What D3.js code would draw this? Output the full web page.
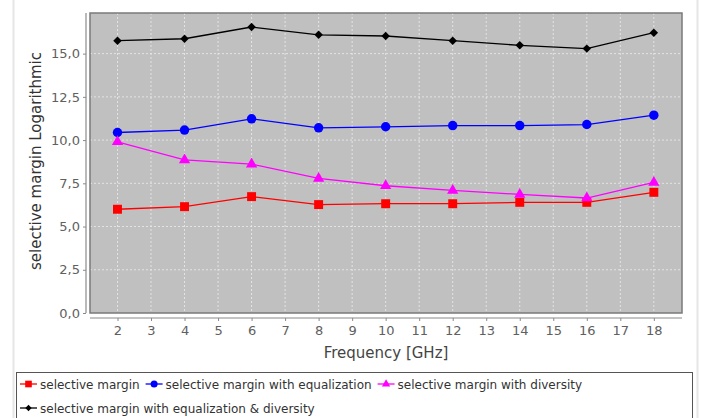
<!DOCTYPE html>
<html>
<head>
<script src="https://d3js.org/d3.v7.min.js"></script>
<style>
    body { margin: 0; background: white; }
    text { font-family: "DejaVu Sans", sans-serif; }
</style>
</head>
<body>
<svg id="chart" width="705" height="418"></svg>
<script>
    // data
    var freqs = [2, 4, 6, 8, 10, 12, 14, 16, 18];
    var marginPlain = [6.00, 6.15, 6.73, 6.27, 6.32, 6.32, 6.40, 6.40, 6.98];
    var marginEqual = [10.44, 10.58, 11.23, 10.71, 10.77, 10.84, 10.84, 10.90, 11.44];
    var marginDiv = [9.90, 8.85, 8.61, 7.78, 7.36, 7.09, 6.86, 6.65, 7.55];
    var marginBoth = [15.75, 15.86, 16.54, 16.09, 16.02, 15.75, 15.48, 15.29, 16.21];
    var seriesNames = ["selective margin", "selective margin with equalization",
        "selective margin with diversity", "selective margin with equalization & diversity"];
    var xTicks = d3.range(2, 19);
    var yTicks = [0, 2.5, 5, 7.5, 10, 12.5, 15];

    var series = [
        { name: seriesNames[0], values: marginPlain, color: "#ff0000", shape: d3.symbolSquare, size: 80, rot: 0 },
        { name: seriesNames[1], values: marginEqual, color: "#0000ff", shape: d3.symbolCircle, size: 70, rot: 0 },
        { name: seriesNames[2], values: marginDiv, color: "#ff00ff", shape: d3.symbolTriangle, size: 55, rot: 0 },
        { name: seriesNames[3], values: marginBoth, color: "#000000", shape: d3.symbolSquare, size: 36, rot: 45 }
    ];

    var svg = d3.select("#chart");
    var plot = { left: 90, top: 13, right: 682, bottom: 313 };

    var x = d3.scaleLinear().domain([1.18, 18.84]).range([plot.left, plot.right]);
    var y = d3.scaleLinear().domain([0, 17.35]).range([plot.bottom, plot.top]);

    // panel side lines
    svg.append("line").attr("x1", 13.5).attr("x2", 13.5).attr("y1", 0).attr("y2", 418)
        .attr("stroke", "#e6e6e6").attr("stroke-width", 2);
    svg.append("line").attr("x1", 697.5).attr("x2", 697.5).attr("y1", 0).attr("y2", 418)
        .attr("stroke", "#e6e6e6").attr("stroke-width", 2);

    // plot background
    svg.append("rect")
        .attr("x", plot.left).attr("y", plot.top)
        .attr("width", plot.right - plot.left).attr("height", plot.bottom - plot.top)
        .attr("fill", "#c0c0c0");

    // grid
    svg.append("g").selectAll("line").data(xTicks).enter().append("line")
        .attr("x1", function (d) { return x(d); }).attr("x2", function (d) { return x(d); })
        .attr("y1", plot.top).attr("y2", plot.bottom)
        .attr("stroke", "#ececec").attr("stroke-width", 0.8).attr("stroke-dasharray", "2,2");
    svg.append("g").selectAll("line").data(yTicks.slice(1)).enter().append("line")
        .attr("x1", plot.left).attr("x2", plot.right)
        .attr("y1", function (d) { return y(d); }).attr("y2", function (d) { return y(d); })
        .attr("stroke", "#ececec").attr("stroke-width", 0.8).attr("stroke-dasharray", "2,2");

    svg.append("rect")
        .attr("x", plot.left).attr("y", plot.top)
        .attr("width", plot.right - plot.left).attr("height", plot.bottom - plot.top)
        .attr("fill", "none").attr("stroke", "#7a7a7a").attr("stroke-width", 1.5);

    // axes
    var fmt = function (d) { return d3.format(".1f")(d).replace(".", ","); };
    var yAxis = svg.append("g")
        .attr("transform", "translate(86,0)")
        .call(d3.axisLeft(y).tickValues(yTicks).tickFormat(fmt).tickSize(3).tickPadding(3));
    var xAxis = svg.append("g")
        .attr("transform", "translate(0,318)")
        .call(d3.axisBottom(x).tickValues(xTicks).tickFormat(d3.format("d")).tickSize(3).tickPadding(5));
    [yAxis, xAxis].forEach(function (a) {
        a.select(".domain").attr("stroke", "#8a8a8a").attr("stroke-width", 1.2);
        a.selectAll(".tick line").attr("stroke", "#8a8a8a");
        a.selectAll(".tick text").attr("fill", "#606060").style("font-size", "13px")
            .style("font-family", "DejaVu Sans, sans-serif");
    });
    yAxis.select(".domain").attr("d", "M0," + plot.top + "V" + plot.bottom);
    xAxis.select(".domain").attr("d", "M" + plot.left + ",0H" + plot.right);

    // axis titles
    svg.append("text")
        .attr("transform", "translate(41,161) rotate(-90)")
        .attr("text-anchor", "middle")
        .attr("fill", "#333")
        .style("font-size", "15px")
        .text("selective margin Logarithmic");
    svg.append("text")
        .attr("x", (plot.left + plot.right) / 2).attr("y", 358)
        .attr("text-anchor", "middle")
        .attr("fill", "#444")
        .style("font-size", "15px")
        .text("Frequency [GHz]");

    // lines and markers
    var line = d3.line()
        .x(function (d, i) { return x(freqs[i]); })
        .y(function (d) { return y(d); });

    series.forEach(function (s) {
        svg.append("path")
            .attr("d", line(s.values))
            .attr("fill", "none")
            .attr("stroke", s.color)
            .attr("stroke-width", 1.3);
        svg.append("g").selectAll("path").data(s.values).enter().append("path")
            .attr("transform", function (d, i) {
                return "translate(" + x(freqs[i]) + "," + y(d) + ") rotate(" + s.rot + ")";
            })
            .attr("d", d3.symbol().type(s.shape).size(s.size))
            .attr("fill", s.color);
    });

    // legend
    var legend = svg.append("g");
    legend.append("rect")
        .attr("x", 16.5).attr("y", 372.5).attr("width", 676).attr("height", 60)
        .attr("fill", "white").attr("stroke", "#555").attr("stroke-width", 1);

    var rows = [[0, 1, 2], [3]];
    rows.forEach(function (row, r) {
        var cx = 20;
        var cy = 384 + r * 24;
        row.forEach(function (k) {
            var s = series[k];
            legend.append("line")
                .attr("x1", cx).attr("x2", cx + 17).attr("y1", cy).attr("y2", cy)
                .attr("stroke", s.color).attr("stroke-width", 1.3);
            legend.append("path")
                .attr("transform", "translate(" + (cx + 8.5) + "," + cy + ") rotate(" + s.rot + ")")
                .attr("d", d3.symbol().type(s.shape).size(s.size * 0.55))
                .attr("fill", s.color);
            var t = legend.append("text")
                .attr("x", cx + 20).attr("y", cy + 4.5)
                .attr("fill", "#333")
                .style("font-size", "12px")
                .text(s.name);
            cx += 20 + t.node().getComputedTextLength() + 6;
        });
    });
</script>
</body>
</html>
